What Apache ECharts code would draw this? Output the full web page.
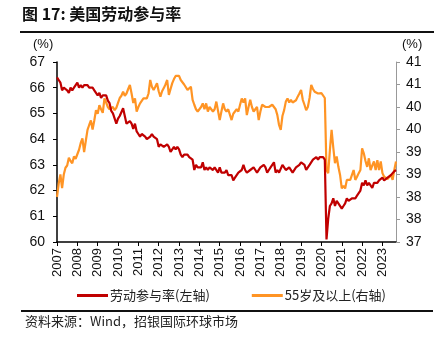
<!DOCTYPE html>
<html><head><meta charset="utf-8">
<script src="https://cdn.jsdelivr.net/npm/echarts@6/dist/echarts.min.js"></script>
<style>html,body{margin:0;padding:0;background:#fff}#c{width:438px;height:346px}</style>
</head><body><div id="c"></div>
<script>
// Monthly, Jan 2007 – Sep 2023
var years = [2007,2008,2009,2010,2011,2012,2013,2014,2015,2016,2017,2018,2019,2020,2021,2022,2023];
var lfprByYear = [
  [66.4,66.3,66.2,65.9,66.0,66.0,65.9,65.8,66.0,65.9,66.0,66.0],
  [66.2,66.0,66.1,66.0,66.1,66.1,66.1,66.0,66.0,66.0,65.9,65.8],
  [65.7,65.8,65.6,65.7,65.7,65.7,65.5,65.4,65.1,65.0,65.0,64.6],
  [64.8,64.9,64.9,65.2,64.9,64.6,64.6,64.7,64.6,64.4,64.6,64.3],
  [64.2,64.1,64.2,64.2,64.1,64.0,64.0,64.1,64.2,64.1,64.1,64.0],
  [63.7,63.8,63.8,63.7,63.7,63.8,63.7,63.5,63.6,63.7,63.6,63.7],
  [63.6,63.4,63.3,63.4,63.4,63.4,63.3,63.3,63.2,62.8,63.0,62.9],
  [62.9,62.9,63.1,62.8,62.9,62.8,62.9,62.9,62.8,62.9,62.9,62.7],
  [62.9,62.7,62.7,62.7,62.8,62.6,62.6,62.6,62.4,62.5,62.5,62.7],
  [62.7,62.8,63.0,62.8,62.7,62.7,62.8,62.8,62.9,62.8,62.7,62.7],
  [62.9,62.9,63.0,62.9,62.7,62.8,62.9,62.9,63.1,62.7,62.8,62.7],
  [62.7,63.0,62.9,62.8,62.8,62.9,62.9,62.7,62.7,62.9,62.9,63.0],
  [63.1,63.1,63.0,62.8,62.9,63.0,63.0,63.2,63.2,63.3,63.2,63.3],
  [63.3,63.3,63.2,60.1,60.9,61.4,61.5,61.7,61.4,61.6,61.5,61.5],
  [61.3,61.4,61.5,61.7,61.6,61.6,61.7,61.7,61.7,61.8,61.9,62.0],
  [62.3,62.2,62.4,62.2,62.3,62.2,62.1,62.3,62.3,62.3,62.4,62.4],
  [62.5,62.4,62.4,62.5,62.55,62.6,62.65,62.75,62.8]
];
var age55ByYear = [
  [38.0,38.3,38.5,38.2,38.5,38.65,38.7,38.87,38.8,38.75,38.9,38.85],
  [38.95,39.05,39.2,39.3,39.0,39.25,39.49,39.6,39.7,39.5,39.7,39.93],
  [39.85,40.04,39.95,39.87,40.19,40.1,40.0,39.95,39.93,40.0,39.93,39.98],
  [40.09,40.2,40.25,40.34,40.25,40.3,40.4,40.49,40.3,40.09,40.19,39.9],
  [40.0,40.08,40.1,40.19,40.15,40.19,40.3,40.6,40.45,40.38,40.45,40.53],
  [40.35,40.23,40.35,40.42,40.5,40.6,40.27,40.4,40.53,40.62,40.69,40.7],
  [40.69,40.6,40.56,40.5,40.49,40.38,40.42,40.45,40.16,40.05,39.95,39.9],
  [39.93,40.0,40.08,39.95,40.08,39.9,40.0,40.04,39.9,39.95,40.12,40.08],
  [39.71,39.9,40.08,39.95,39.9,39.95,39.97,39.71,39.85,39.9,39.95,39.9],
  [40.05,40.19,40.1,40.19,39.82,40.0,40.16,40.0,39.9,39.95,40.0,39.71],
  [39.9,40.05,40.08,40.0,40.0,40.0,40.0,40.05,40.08,39.95,39.82,39.6],
  [39.49,39.8,39.93,40.12,40.19,40.1,40.16,40.1,40.08,40.15,40.23,40.3],
  [40.38,40.16,40.05,39.93,40.0,40.2,40.49,40.4,40.34,40.38,40.3,40.31],
  [40.31,40.3,40.2,38.6,38.53,39.04,39.49,39.1,38.75,38.9,38.67,38.49],
  [38.19,38.25,38.19,38.38,38.42,38.38,38.42,38.6,38.38,38.45,38.53,38.6],
  [39.08,38.97,38.8,38.67,38.86,38.6,38.7,38.79,38.6,38.82,38.6,38.79],
  [38.53,38.45,38.42,38.4,38.38,38.49,38.38,38.6,38.79]
];
var seriesNames = ['劳动参与率(左轴)', '55岁及以上(右轴)'];
var leftTicks = {min: 60, max: 67, step: 1};
var rightTicks = {min: 37, max: 41, step: 0.5};

var months = [], lfpr = [], age55 = [];
years.forEach(function (y, k) {
  lfprByYear[k].forEach(function (v, m) {
    months.push(y + '-' + (m + 1 < 10 ? '0' : '') + (m + 1));
    lfpr.push(v);
    age55.push(age55ByYear[k][m]);
  });
});
function isJan(i) { return months[i].slice(5) === '01'; }

var chart = echarts.init(document.getElementById('c'), null, {renderer: 'canvas'});
var FONT = 'Liberation Sans, Arial, sans-serif';
var CJK = '"Noto Sans CJK SC", sans-serif';
chart.setOption({
  animation: false,
  backgroundColor: '#fff',
  grid: {left: 57, right: 42, top: 62, bottom: 104},
  legend: {
    bottom: 39, left: 72,
    itemWidth: 31, itemHeight: 3, itemGap: 42,
    icon: 'rect',
    textStyle: {fontSize: 13, color: '#222', fontFamily: CJK, padding: [0, 0, 0, -3]},
    data: seriesNames
  },
  xAxis: {
    type: 'category', data: months, boundaryGap: false,
    axisLine: {lineStyle: {color: '#000', width: 1.5}},
    axisTick: {interval: function (i) { return isJan(i); }, length: 4, lineStyle: {color: '#000'}},
    axisLabel: {interval: function (i) { return isJan(i); }, rotate: 90, fontSize: 13, color: '#111', fontFamily: FONT, margin: 6,
      formatter: function (v) { return v.slice(0, 4); }},
    splitLine: {show: false}
  },
  yAxis: [{
    type: 'value', min: leftTicks.min, max: leftTicks.max, interval: leftTicks.step, position: 'left',
    axisLine: {show: true, lineStyle: {color: '#000', width: 1.5}},
    axisTick: {show: true, length: 4, lineStyle: {color: '#000'}},
    axisLabel: {fontSize: 14, color: '#111', fontFamily: FONT, margin: 12},
    splitLine: {show: false}
  }, {
    type: 'value', min: rightTicks.min, max: rightTicks.max, interval: rightTicks.step, position: 'right',
    axisLine: {show: true, lineStyle: {color: '#999', width: 1}},
    axisTick: {show: true, length: 4, lineStyle: {color: '#999'}},
    axisLabel: {fontSize: 14, color: '#111', fontFamily: FONT, margin: 10,
      formatter: function (v) { return String(Math.round(v)); }},
    splitLine: {show: false}
  }],
  series: [{
    name: seriesNames[0], type: 'line', yAxisIndex: 0, data: lfpr,
    showSymbol: false, lineStyle: {color: '#C00000', width: 2.2}, itemStyle: {color: '#C00000'}, z: 3
  }, {
    name: seriesNames[1], type: 'line', yAxisIndex: 1, data: age55,
    showSymbol: false, lineStyle: {color: '#FF9424', width: 2.2}, itemStyle: {color: '#FF9424'}, z: 2
  }],
  graphic: [
    {type: 'text', left: 22, top: 6, style: {text: '图 17: 美国劳动参与率', font: 'bold 16px "Noto Sans CJK SC", sans-serif', fill: '#111'}},
    {type: 'rect', shape: {x: 20, y: 31, width: 414, height: 2}, style: {fill: '#111'}},
    {type: 'text', left: 33, top: 38, style: {text: '(%)', font: '13px ' + FONT, fill: '#111'}},
    {type: 'text', left: 402, top: 38, style: {text: '(%)', font: '13px ' + FONT, fill: '#111'}},
    {type: 'rect', shape: {x: 21, y: 310, width: 412, height: 2}, style: {fill: '#111'}},
    {type: 'text', left: 25, top: 315, style: {text: '资料来源：Wind，招银国际环球市场', font: '13px "Noto Sans CJK SC", sans-serif', fill: '#222'}}
  ]
});
</script></body></html>
